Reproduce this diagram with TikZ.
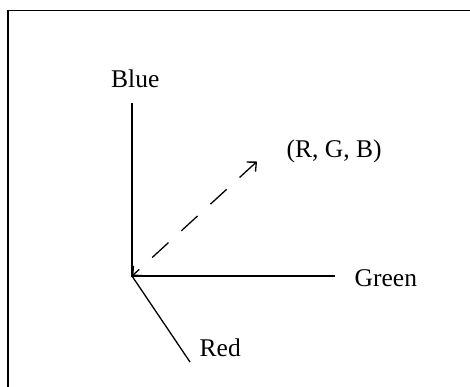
\documentclass[tikz,border=0pt]{standalone}
\usepackage{fontspec}
\setmainfont{Liberation Serif}
\usetikzlibrary{arrows.meta}
\begin{document}
\begin{tikzpicture}[x=1pt,y=-1pt,
  axis/.style={line width=1.3pt, line cap=butt},
  lbl/.style={inner sep=0pt, anchor=base west, font=\fontsize{25.5}{30}\selectfont},
  vec/.style={line width=1.3pt, dash pattern=on 22pt off 17.5pt,
    {Straight Barb[length=7pt,width=13pt]}-{Straight Barb[length=7pt,width=13pt]}}]
\useasboundingbox (0,0) rectangle (470,386);
\begin{scope}
\clip (0,0) rectangle (470,386);
\draw[line width=1.5pt] (480,10.5) -- (8,10.5) -- (8,400);
\end{scope}
\coordinate (O) at (132,276);
\coordinate (B) at (132,103);
\coordinate (G) at (335,276);
\coordinate (R) at (190,362);
\coordinate (P) at (257,161.5);
\draw[axis] (B) -- (O) -- (G);
\draw[axis] (O) -- (R);
\draw[vec] (P) -- (O);
\node[lbl] (lb) at (111,87.3) {Blue};
\node[lbl] (lp) at (286.5,157) {(R, G, B)};
\node[lbl] (lg) at (354.5,286.7) {Green};
\node[lbl] (lr) at (199.5,356) {Red};
\end{tikzpicture}
\end{document}
